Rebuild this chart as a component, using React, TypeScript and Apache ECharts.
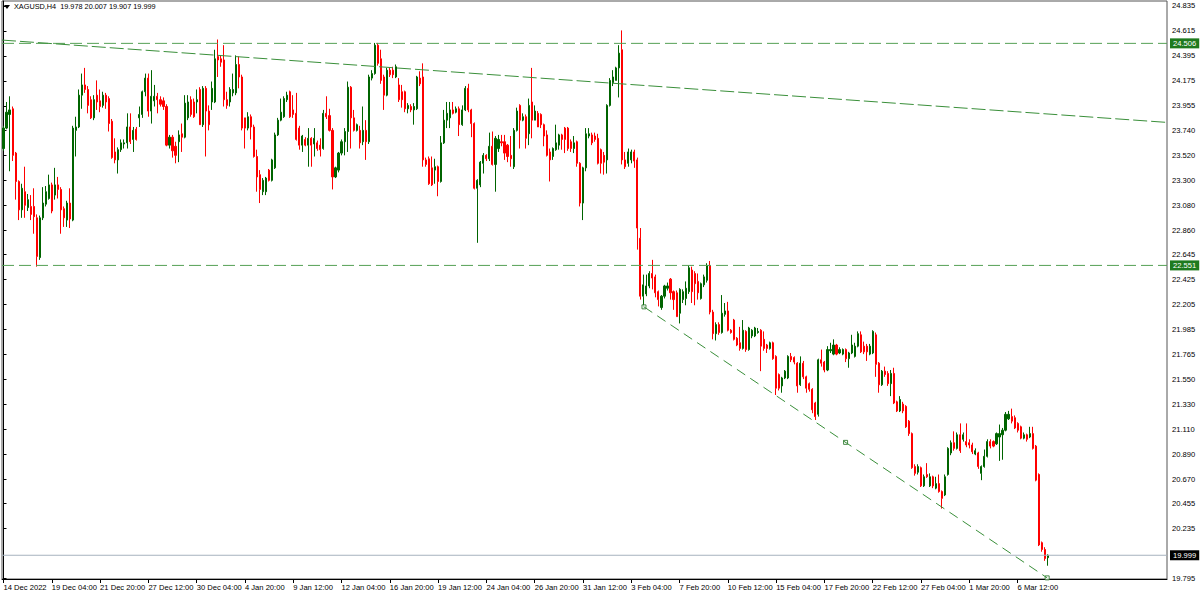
import React, { useEffect, useRef } from "react";
import * as echarts from "echarts";

// ---- data ----
const headerText = "XAGUSD,H4  19.978 20.007 19.907 19.999";
const timeLabels = [
  "14 Dec 2022", "19 Dec 04:00", "21 Dec 20:00", "27 Dec 12:00", "30 Dec 04:00",
  "4 Jan 20:00", "9 Jan 12:00", "12 Jan 04:00", "16 Jan 20:00", "19 Jan 12:00",
  "24 Jan 04:00", "26 Jan 20:00", "31 Jan 12:00", "3 Feb 04:00", "7 Feb 20:00",
  "10 Feb 12:00", "15 Feb 04:00", "17 Feb 20:00", "22 Feb 12:00", "27 Feb 04:00",
  "1 Mar 20:00", "6 Mar 12:00",
];
const LABEL_STEP = 16; // bars between time labels
const SLOT_COUNT = 386; // bar slots across the chart incl. right shift

const priceTicks = [
  24.835, 24.615, 24.395, 24.175, 23.955, 23.74, 23.52, 23.3, 23.08, 22.86,
  22.645, 22.425, 22.205, 21.985, 21.765, 21.55, 21.33, 21.11, 20.89, 20.67,
  20.455, 20.235, 19.795,
];
const resistanceLevel = 24.506;
const supportLevel = 22.551;
const bidLevel = 19.999;
const upperTrend = [[-0.5, 24.535], [385.5, 23.81]];
const lowerTrend = [[212.2, 22.186], [345.8, 19.8]];
const lowerAnchors = [[212.2, 22.186], [279.0, 20.993], [345.8, 19.8]];

// candles: [open, close, low, high]
const candlesA = [
  [23.58, 23.76, 23.56, 23.78], [23.76, 23.9, 23.75, 23.99], [23.88, 23.92, 23.38, 24.04], [23.93, 23.52, 23.47, 23.95],
  [23.54, 23.29, 23.13, 23.55], [23.29, 23.04, 22.95, 23.3], [23.04, 23.23, 22.97, 23.27], [23.2, 23.08, 22.97, 23.42],
  [23.06, 23.13, 23.03, 23.18], [23.07, 23.0, 22.95, 23.17], [23.07, 22.98, 22.83, 23.23], [22.97, 22.63, 22.54, 23.0],
  [22.62, 22.97, 22.6, 22.99], [22.97, 23.1, 22.95, 23.24], [23.09, 23.2, 23.07, 23.25], [23.14, 23.26, 23.13, 23.35],
  [23.26, 23.03, 23.01, 23.28], [23.17, 23.26, 23.13, 23.41], [23.26, 23.22, 23.14, 23.33], [23.22, 23.04, 22.83, 23.24],
  [23.05, 22.97, 22.89, 23.07], [22.95, 23.1, 22.89, 23.12], [23.1, 22.96, 22.88, 23.23], [22.95, 23.76, 22.94, 23.78],
  [23.74, 23.77, 23.51, 23.86], [23.77, 24.05, 23.76, 24.1], [24.05, 24.14, 23.93, 24.24], [24.14, 24.1, 24.07, 24.29],
  [24.1, 23.96, 23.89, 24.13], [24.01, 23.85, 23.84, 24.04], [23.85, 24.01, 23.83, 24.05], [24.05, 23.99, 23.92, 24.18],
  [24.0, 23.95, 23.9, 24.1], [23.96, 24.05, 23.94, 24.08], [24.05, 23.99, 23.93, 24.07], [24.02, 23.8, 23.73, 24.04],
  [23.82, 23.5, 23.49, 23.84], [23.55, 23.48, 23.45, 23.67], [23.48, 23.57, 23.36, 23.59], [23.57, 23.63, 23.55, 23.66],
  [23.62, 23.63, 23.58, 23.66], [23.63, 23.77, 23.58, 23.89], [23.77, 23.64, 23.62, 23.89], [23.66, 23.74, 23.55, 23.77],
  [23.75, 23.66, 23.65, 23.77], [23.85, 23.88, 23.77, 23.95], [23.88, 24.08, 23.85, 24.09], [24.08, 24.2, 24.04, 24.24],
  [24.2, 23.91, 23.86, 24.24], [23.91, 24.04, 23.8, 24.27], [24.0, 24.04, 23.95, 24.14], [24.04, 24.01, 23.89, 24.07],
  [24.01, 23.97, 23.95, 24.04], [24.0, 23.95, 23.92, 24.03], [23.95, 23.61, 23.6, 23.97], [23.61, 23.68, 23.58, 23.7],
];
const candlesB = [
  [23.68, 23.56, 23.5, 23.7], [23.6, 23.52, 23.45, 23.64], [23.64, 23.7, 23.46, 23.74], [23.71, 23.68, 23.55, 23.8],
  [23.68, 23.98, 23.67, 24.05], [23.85, 23.99, 23.83, 24.05], [24.01, 23.88, 23.86, 24.04], [23.99, 23.86, 23.85, 24.02],
  [23.99, 24.01, 23.89, 24.1], [24.1, 23.79, 23.79, 24.12], [23.79, 24.11, 23.77, 24.13], [24.11, 23.91, 23.51, 24.13],
  [23.91, 23.79, 23.74, 23.96], [23.99, 24.11, 23.92, 24.17], [23.99, 24.37, 23.98, 24.45], [24.39, 24.36, 24.21, 24.54],
  [24.37, 24.34, 24.3, 24.4], [24.36, 24.01, 23.95, 24.49], [24.01, 23.96, 23.93, 24.08], [23.99, 24.1, 23.95, 24.12],
  [24.07, 24.1, 24.04, 24.24], [24.07, 24.32, 24.05, 24.4], [24.32, 24.21, 24.11, 24.39], [24.21, 23.76, 23.74, 24.23],
  [23.85, 23.76, 23.58, 23.85], [23.76, 23.86, 23.74, 23.9], [23.86, 23.77, 23.66, 23.88], [23.77, 23.51, 23.5, 23.79],
  [23.51, 23.33, 23.2, 23.57], [23.35, 23.22, 23.1, 23.39], [23.2, 23.3, 23.17, 23.32], [23.2, 23.32, 23.17, 23.33],
  [23.39, 23.3, 23.29, 23.4], [23.3, 23.48, 23.29, 23.49], [23.41, 23.7, 23.4, 23.72], [23.7, 23.83, 23.69, 23.85],
  [23.83, 23.9, 23.82, 24.02], [23.86, 24.02, 23.85, 24.04], [24.01, 24.05, 23.99, 24.08], [24.08, 23.86, 23.85, 24.09],
  [23.92, 23.88, 23.85, 24.05], [23.89, 23.66, 23.65, 24.07], [23.76, 23.61, 23.57, 23.78], [23.61, 23.69, 23.55, 23.7],
  [23.66, 23.61, 23.6, 23.68], [23.61, 23.67, 23.42, 23.76], [23.67, 23.61, 23.42, 23.68], [23.62, 23.67, 23.51, 23.76],
  [23.63, 23.58, 23.56, 23.65], [23.61, 23.57, 23.51, 23.67], [23.58, 23.89, 23.57, 23.92], [23.89, 23.86, 23.84, 24.04],
  [23.87, 23.74, 23.73, 23.93], [23.74, 23.33, 23.22, 23.76], [23.33, 23.41, 23.32, 23.42], [23.39, 23.54, 23.37, 23.55],
  [23.54, 23.64, 23.52, 23.66], [23.64, 23.73, 23.52, 23.76],
];
const candlesC = [
  [23.73, 24.12, 23.55, 24.17], [24.12, 23.85, 23.58, 24.13], [23.85, 23.74, 23.73, 23.92], [23.74, 23.79, 23.73, 23.8],
  [23.74, 23.63, 23.58, 23.78], [23.64, 23.74, 23.61, 23.95], [23.74, 23.64, 23.48, 23.83], [23.64, 24.21, 23.62, 24.23],
  [24.2, 24.24, 24.18, 24.27], [24.24, 24.49, 24.23, 24.51], [24.49, 24.33, 24.31, 24.51], [24.37, 24.18, 24.15, 24.45],
  [24.21, 24.05, 23.92, 24.23], [24.05, 24.27, 24.04, 24.29], [24.27, 24.23, 24.21, 24.29], [24.27, 24.23, 24.2, 24.3],
  [24.21, 24.3, 24.2, 24.32], [24.14, 24.01, 23.99, 24.2], [24.08, 24.01, 23.94, 24.14], [24.08, 23.93, 23.9, 24.09],
  [23.93, 23.96, 23.89, 23.98], [23.95, 23.92, 23.9, 23.97], [23.92, 23.95, 23.79, 23.98], [23.93, 24.21, 23.92, 24.22],
  [24.2, 24.15, 24.13, 24.26], [24.21, 23.48, 23.42, 24.33], [23.48, 23.44, 23.42, 23.5], [23.49, 23.27, 23.26, 23.51],
  [23.41, 23.26, 23.25, 23.51], [23.39, 23.42, 23.27, 23.49], [23.42, 23.29, 23.16, 23.43], [23.29, 23.63, 23.28, 23.69],
  [23.63, 23.83, 23.62, 23.92], [23.83, 23.89, 23.76, 23.99], [23.85, 23.92, 23.76, 23.99], [23.92, 23.89, 23.88, 23.99],
  [23.9, 23.93, 23.89, 23.95], [23.93, 23.79, 23.69, 23.95], [23.79, 23.92, 23.78, 23.96], [23.92, 24.11, 23.91, 24.13],
  [24.11, 23.92, 23.9, 24.15], [23.92, 23.8, 23.68, 23.93], [23.8, 23.23, 23.22, 23.81], [23.23, 23.3, 22.75, 23.31],
  [23.26, 23.46, 23.24, 23.47], [23.45, 23.52, 23.36, 23.54], [23.52, 23.49, 23.47, 23.53], [23.49, 23.6, 23.47, 23.72],
  [23.6, 23.44, 23.43, 23.73], [23.44, 23.67, 23.2, 23.69], [23.58, 23.66, 23.55, 23.7], [23.64, 23.63, 23.6, 23.7],
  [23.64, 23.54, 23.48, 23.7], [23.61, 23.51, 23.46, 23.62], [23.52, 23.49, 23.42, 23.69],
];
const candlesD = [
  [23.42, 23.74, 23.4, 23.76], [23.74, 23.91, 23.73, 23.94], [23.96, 23.83, 23.58, 23.97], [23.83, 23.86, 23.82, 23.89],
  [23.86, 23.67, 23.58, 23.88], [23.71, 23.96, 23.61, 24.02], [23.99, 23.83, 23.67, 24.29], [23.83, 23.91, 23.83, 23.96],
  [23.89, 23.77, 23.77, 23.91], [23.88, 23.79, 23.76, 23.89], [23.79, 23.69, 23.6, 23.8], [23.7, 23.52, 23.51, 23.74],
  [23.55, 23.48, 23.29, 23.58], [23.51, 23.58, 23.48, 23.59], [23.57, 23.63, 23.56, 23.79], [23.61, 23.7, 23.57, 23.71],
  [23.7, 23.66, 23.57, 23.71], [23.76, 23.66, 23.54, 23.77], [23.76, 23.58, 23.56, 23.77], [23.64, 23.58, 23.55, 23.66],
  [23.58, 23.63, 23.54, 23.69], [23.64, 23.45, 23.42, 23.65], [23.45, 23.1, 23.07, 23.46], [23.1, 23.41, 22.95, 23.42],
  [23.41, 23.71, 23.38, 23.76], [23.69, 23.71, 23.67, 23.76], [23.7, 23.63, 23.61, 23.72], [23.69, 23.66, 23.64, 23.72],
  [23.67, 23.45, 23.44, 23.71], [23.57, 23.45, 23.36, 23.58], [23.52, 23.46, 23.35, 23.55], [23.48, 23.96, 23.36, 23.97],
  [23.96, 24.18, 23.95, 24.2], [24.16, 24.21, 24.13, 24.27], [24.18, 24.29, 24.18, 24.3], [24.29, 24.42, 24.03, 24.49],
  [24.45, 23.48, 23.44, 24.62], [23.48, 23.42, 23.4, 23.55], [23.45, 23.55, 23.42, 23.58], [23.48, 23.55, 23.45, 23.57],
  [23.55, 23.47, 23.41, 23.57], [23.48, 22.88, 22.69, 23.5], [22.79, 22.28, 22.25, 22.88], [22.28, 22.38, 22.18, 22.47],
  [22.3, 22.37, 22.28, 22.47], [22.37, 22.48, 22.35, 22.5], [22.48, 22.44, 22.34, 22.6], [22.45, 22.31, 22.27, 22.47],
  [22.32, 22.25, 22.19, 22.33], [22.18, 22.28, 22.16, 22.29], [22.28, 22.37, 22.26, 22.38], [22.35, 22.37, 22.33, 22.4],
  [22.43, 22.31, 22.25, 22.44], [22.32, 22.25, 22.16, 22.33], [22.31, 22.1, 22.1, 22.33], [22.13, 22.34, 22.04, 22.35],
  [22.25, 22.32, 22.22, 22.34], [22.26, 22.35, 22.2, 22.41],
];
const candlesE = [
  [22.32, 22.53, 22.3, 22.55], [22.51, 22.32, 22.22, 22.54], [22.48, 22.39, 22.2, 22.5], [22.41, 22.31, 22.25, 22.48],
  [22.26, 22.39, 22.25, 22.4], [22.38, 22.45, 22.36, 22.47], [22.42, 22.55, 22.4, 22.57], [22.55, 22.14, 22.12, 22.59],
  [22.14, 21.95, 21.9, 22.16], [21.95, 22.03, 21.89, 22.05], [22.03, 21.96, 21.94, 22.05], [21.96, 22.13, 21.95, 22.29],
  [22.12, 22.15, 22.1, 22.22], [22.15, 21.98, 21.97, 22.23], [21.98, 21.96, 21.95, 21.99], [22.07, 21.9, 21.89, 22.08],
  [21.91, 21.85, 21.84, 21.92], [21.87, 21.82, 21.8, 22.01], [21.82, 21.98, 21.81, 22.07], [21.97, 21.81, 21.79, 21.98],
  [21.81, 22.0, 21.8, 22.01], [21.93, 21.98, 21.91, 21.99], [21.93, 22.0, 21.92, 22.01], [21.96, 21.97, 21.95, 22.0],
  [21.98, 21.84, 21.62, 21.99], [21.9, 21.82, 21.8, 21.97], [21.85, 21.82, 21.78, 21.86], [21.82, 21.87, 21.81, 21.88],
  [21.87, 21.73, 21.72, 21.88], [21.75, 21.47, 21.41, 21.76], [21.59, 21.47, 21.45, 21.6], [21.49, 21.56, 21.43, 21.57],
  [21.56, 21.62, 21.55, 21.63], [21.56, 21.75, 21.55, 21.76], [21.75, 21.72, 21.7, 21.78], [21.74, 21.7, 21.68, 21.75],
  [21.69, 21.49, 21.43, 21.7], [21.5, 21.69, 21.49, 21.75], [21.69, 21.57, 21.55, 21.71], [21.57, 21.47, 21.43, 21.58],
  [21.51, 21.46, 21.44, 21.52], [21.46, 21.28, 21.25, 21.47], [21.34, 21.22, 21.19, 21.35], [21.24, 21.72, 21.22, 21.73],
  [21.72, 21.69, 21.66, 21.81], [21.7, 21.63, 21.61, 21.71], [21.63, 21.81, 21.62, 21.84], [21.8, 21.81, 21.78, 21.87],
  [21.77, 21.85, 21.76, 21.9], [21.85, 21.77, 21.76, 21.86], [21.78, 21.81, 21.77, 21.83], [21.77, 21.81, 21.76, 21.82],
  [21.81, 21.73, 21.7, 21.82], [21.73, 21.78, 21.65, 21.79], [21.78, 21.85, 21.77, 21.94],
];
const candlesF = [
  [21.75, 21.84, 21.74, 21.87], [21.84, 21.95, 21.83, 21.97], [21.94, 21.79, 21.78, 21.97], [21.84, 21.79, 21.77, 21.88],
  [21.84, 21.79, 21.71, 21.86], [21.77, 21.84, 21.76, 21.86], [21.78, 21.97, 21.77, 21.98], [21.94, 21.68, 21.57, 21.96],
  [21.69, 21.5, 21.43, 21.7], [21.5, 21.62, 21.49, 21.63], [21.62, 21.59, 21.57, 21.66], [21.6, 21.51, 21.49, 21.62],
  [21.51, 21.6, 21.4, 21.63], [21.6, 21.34, 21.33, 21.65], [21.35, 21.27, 21.26, 21.36], [21.27, 21.37, 21.26, 21.4],
  [21.33, 21.27, 21.25, 21.35], [21.31, 21.13, 21.12, 21.32], [21.18, 21.07, 21.05, 21.19], [21.07, 20.77, 20.76, 21.08],
  [20.78, 20.72, 20.7, 20.8], [20.73, 20.78, 20.71, 20.8], [20.77, 20.61, 20.6, 20.78], [20.61, 20.69, 20.6, 20.71],
  [20.71, 20.69, 20.68, 20.81], [20.61, 20.69, 20.6, 20.72], [20.69, 20.61, 20.59, 20.7], [20.59, 20.63, 20.58, 20.69],
  [20.63, 20.56, 20.55, 20.71], [20.56, 20.5, 20.41, 20.57], [20.53, 20.69, 20.52, 20.71], [20.71, 20.94, 20.7, 20.95],
  [20.9, 20.99, 20.88, 21.01], [20.99, 20.94, 20.92, 21.09], [20.94, 21.06, 20.93, 21.08], [21.06, 20.92, 20.9, 21.16],
  [21.02, 21.06, 21.0, 21.08], [21.0, 20.97, 20.95, 21.16], [20.99, 20.97, 20.94, 21.02], [20.97, 20.91, 20.89, 20.99],
  [20.89, 20.92, 20.88, 20.94], [20.9, 20.78, 20.76, 20.91], [20.72, 20.78, 20.66, 20.79], [20.78, 20.87, 20.77, 20.93],
  [20.87, 21.0, 20.86, 21.02], [21.0, 20.96, 20.94, 21.02], [21.0, 20.96, 20.95, 21.01], [20.98, 21.07, 20.97, 21.08],
  [21.04, 21.07, 20.83, 21.15], [21.06, 21.1, 20.84, 21.12], [21.1, 21.24, 21.09, 21.26], [21.2, 21.24, 21.19, 21.27],
  [21.22, 21.18, 21.16, 21.29], [21.21, 21.12, 21.11, 21.23], [21.16, 21.1, 21.08, 21.17], [21.13, 21.03, 21.02, 21.14],
  [21.03, 21.06, 21.02, 21.08], [21.06, 21.02, 21.0, 21.07], [21.04, 21.07, 21.03, 21.13], [21.07, 20.94, 20.93, 21.13],
  [20.96, 20.66, 20.65, 20.97], [20.71, 20.09, 20.08, 20.72], [20.11, 20.05, 20.03, 20.12], [20.05, 19.97, 19.95, 20.07],
  [19.978, 19.999, 19.907, 20.007],
];

const candles = [...candlesA, ...candlesB, ...candlesC, ...candlesD, ...candlesE, ...candlesF];
const slots = Array.from({ length: SLOT_COUNT }, (_, i) => String(i));

const FONT = "'Liberation Sans', Arial, sans-serif";
const TREND_GREEN = "#3a8f3a";
const LEVEL_GREEN = "#55a055";

export default function App() {
  const ref = useRef<HTMLDivElement>(null);
  useEffect(() => {
    if (!ref.current) return;
    const chart = echarts.init(ref.current, undefined, { renderer: "svg" });
    const isLabelSlot = (i: number) => i % LABEL_STEP === 0 && i / LABEL_STEP < timeLabels.length;
    const boxLabel = (text: string, bg: string) => ({
      show: true,
      position: "end",
      distance: 2,
      formatter: text,
      backgroundColor: bg,
      color: "#fff",
      fontSize: 7.6,
      fontFamily: FONT,
      padding: [1, 3, 1, 3],
    });
    const levelLine = (value: number, color: string, type: any, bg: string) => ({
      type: "line",
      xAxisIndex: 1,
      data: [[-0.5, value], [SLOT_COUNT - 0.5, value]],
      showSymbol: false,
      silent: true,
      lineStyle: { color, width: 1, type },
      endLabel: { ...boxLabel(value.toFixed(3), bg), distance: 3 },
    });
    chart.setOption({
      animation: false,
      backgroundColor: "#ffffff",
      textStyle: { fontFamily: FONT },
      grid: { left: 2, right: 33, top: 1, bottom: 18, show: true, borderColor: "#555", borderWidth: 1 },
      xAxis: [
        {
          type: "category",
          data: slots,
          boundaryGap: true,
          axisLine: { lineStyle: { color: "#000" } },
          axisTick: {
            show: true,
            alignWithLabel: true,
            length: 4,
            interval: (i: number) => isLabelSlot(i),
            lineStyle: { color: "#000" },
          },
          axisLabel: {
            interval: (i: number) => isLabelSlot(i),
            formatter: (v: string) => timeLabels[Number(v) / LABEL_STEP] ?? "",
            align: "left",
            color: "#000",
            fontSize: 7.6,
            fontFamily: FONT,
            margin: 4,
          },
          splitLine: { show: false },
        },
        { type: "value", min: -0.5, max: SLOT_COUNT - 0.5, show: false },
      ],
      yAxis: {
        type: "value",
        position: "right",
        min: 19.79,
        max: 24.879,
        axisLine: { show: true, lineStyle: { color: "#000" } },
        axisTick: { show: true, customValues: priceTicks, length: 3, lineStyle: { color: "#000" } },
        axisLabel: {
          customValues: priceTicks,
          formatter: (v: number) => v.toFixed(3),
          color: "#000",
          fontSize: 7.6,
          fontFamily: FONT,
          margin: 5,
        },
        splitLine: { show: false },
      },
      graphic: [
        { type: "polygon", shape: { points: [[4, 5], [10, 5], [7, 9]] }, style: { fill: "#000" } },
        {
          type: "text",
          left: 14,
          top: 3,
          style: { text: headerText, fill: "#000", fontSize: 7.3, fontFamily: FONT },
        },
      ],
      series: [
        {
          type: "candlestick",
          data: candles,
          barWidth: 1.6,
          itemStyle: {
            color: "#006400",
            color0: "#ff0000",
            borderColor: "#006400",
            borderColor0: "#ff0000",
            borderWidth: 1,
          },
        },
        levelLine(resistanceLevel, LEVEL_GREEN, [12, 5], "#1e7a1e"),
        levelLine(supportLevel, LEVEL_GREEN, [12, 5], "#1e7a1e"),
        levelLine(bidLevel, "#a7b3bf", "solid", "#000"),
        {
          type: "line",
          xAxisIndex: 1,
          data: upperTrend,
          showSymbol: false,
          silent: true,
          lineStyle: { color: TREND_GREEN, width: 1, type: [14, 4] },
        },
        {
          type: "line",
          xAxisIndex: 1,
          data: lowerTrend,
          showSymbol: false,
          silent: true,
          lineStyle: { color: TREND_GREEN, width: 1, type: [10, 6] },
        },
        {
          type: "scatter",
          xAxisIndex: 1,
          data: lowerAnchors,
          symbol: "rect",
          symbolSize: 4,
          silent: true,
          itemStyle: { color: "#ffffff", borderColor: "#1e6e1e", borderWidth: 1 },
        },
      ],
    });
    return () => chart.dispose();
  }, []);
  return (
    <div
      ref={ref}
      style={{ position: "fixed", left: 0, top: 0, width: 1200, height: 597, background: "#fff" }}
    />
  );
}
